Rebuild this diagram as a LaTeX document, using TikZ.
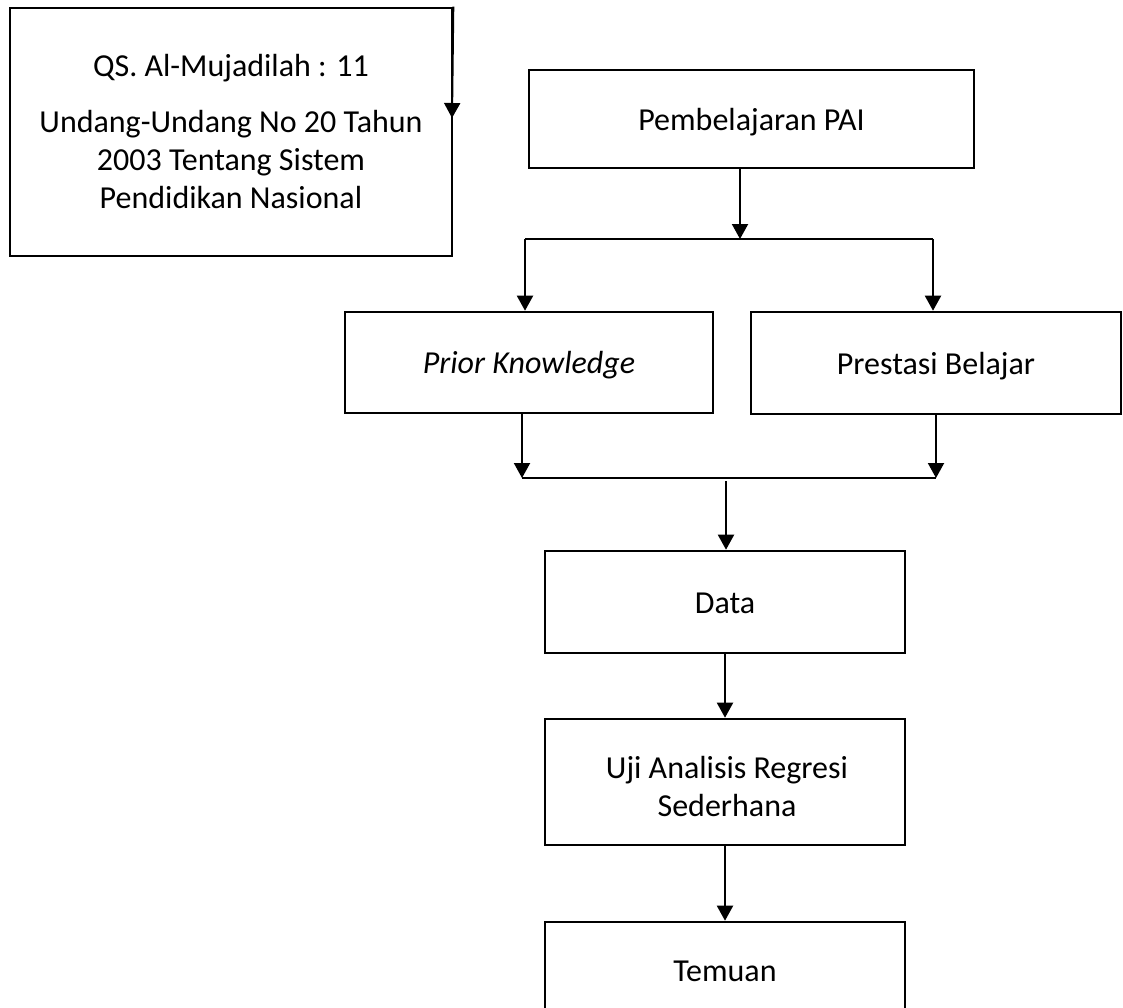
\documentclass[tikz,border=0pt]{standalone}
\usepackage{fontspec}
\setmainfont{Carlito}
\usetikzlibrary{arrows.meta}
\begin{document}
\begin{tikzpicture}[x=0.5pt,y=-0.5pt,
  box/.style={draw, line width=1.3pt, inner sep=0pt, align=center,
    font=\fontsize{16}{19}\selectfont, text height=13pt, text depth=2pt},
  lbl/.style={inner sep=0pt, align=center, font=\fontsize{16}{19}\selectfont},
  arr/.style={line width=1pt, -{Triangle[length=7.5pt,width=8pt]}},
  junc/.style={line width=1.3pt}]
\useasboundingbox (0,0) rectangle (1123,1007);
\clip (0,0) rectangle (1123,1007);

% boxes
\node[box, minimum width=221pt, minimum height=124pt] (b1) at (231,132) {};
\node[lbl] (b1t) at (231,132) {QS. Al-Mujadilah : 11\\[9pt]Undang-Undang No 20 Tahun\\2003 Tentang Sistem\\Pendidikan Nasional};

\node[box, minimum width=222.5pt, minimum height=49pt] (b2) at (751.5,119) {Pembelajaran PAI};

\node[box, minimum width=184pt, minimum height=50.5pt] (b3) at (529,362.5) {\textit{Prior Knowledge}};
\node[box, minimum width=185pt, minimum height=51pt] (b4) at (936,363) {Prestasi Belajar};
\node[box, minimum width=180pt, minimum height=51pt] (data) at (725,602) {Data};
\node[box, minimum width=180pt, minimum height=63pt] (uji) at (725,782) {};
\node[lbl] (ujit) at (727,786) {Uji Analisis Regresi\\Sederhana};
\node[box, minimum width=180pt, minimum height=48pt] (tem) at (725,970) {Temuan};

% connectors
\coordinate (b1tip) at (452,118);
\draw[arr] (b1.north east) -- (b1tip);

\coordinate (j1) at (740,239);
\coordinate (jl) at (525,239);
\coordinate (jr) at (933,239);
\draw[arr] (j1 |- b2.south) -- (j1);
\draw[junc] (jl) -- (jr);
\draw[arr] (jl) -- (jl |- b3.north);
\draw[arr] (jr) -- (jr |- b4.north);

\coordinate (kl) at (522,478);
\coordinate (kr) at (936,478);
\draw[arr] (kl |- b3.south) -- (kl);
\draw[arr] (kr |- b4.south) -- (kr);
\draw[junc] (kl) -- (kr);

\coordinate (k1) at (726,481);
\draw[arr] (k1) -- (k1 |- data.north);
\draw[arr] (data.south) -- (uji.north);
\draw[arr] (uji.south) -- (tem.north);
\end{tikzpicture}
\end{document}
